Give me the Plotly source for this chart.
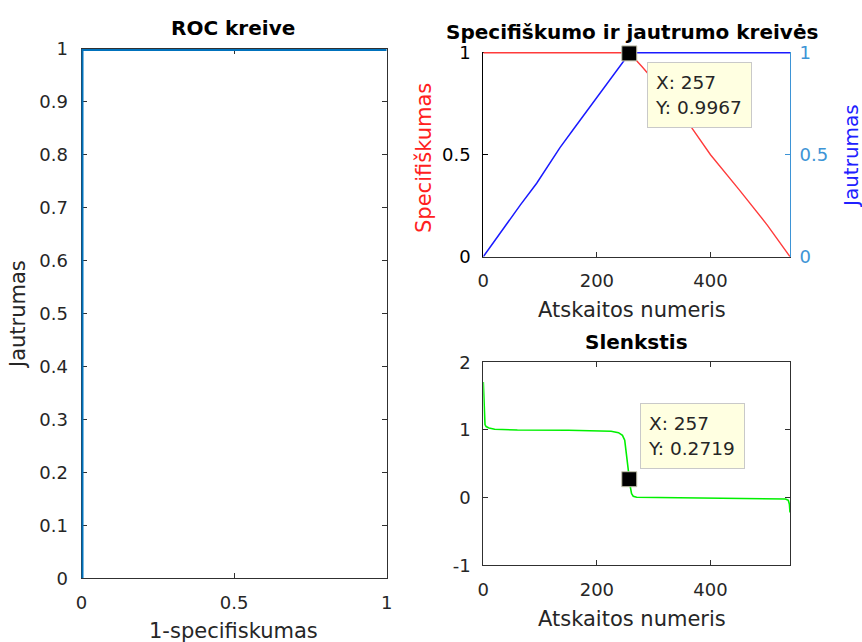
import plotly.graph_objects as go

# ---- data -----------------------------------------------------------------
# ROC curve (1 - specificity vs. sensitivity)
roc_fpr = [0.0, 0.0, 0.0, 0.5, 1.0]
roc_tpr = [0.0, 0.5, 1.0, 1.0, 1.0]

# specificity curve (left axis) vs. sample number
spec_idx = [0, 100, 200, 257, 280, 320, 360, 400, 450, 500, 540]
spec_val = [1.0, 1.0, 1.0, 1.0, 0.93, 0.80, 0.66, 0.50, 0.33, 0.155, 0.0]

# sensitivity curve (right axis) vs. sample number
sens_idx = [0, 35, 65, 94, 117, 135, 160, 188, 220, 246, 257, 258, 400, 540]
sens_val = [0.0, 0.139, 0.253, 0.36, 0.458, 0.535, 0.63, 0.735, 0.86, 0.956, 0.9967, 1.0, 1.0, 1.0]

# decision threshold vs. sample number
thr_idx = [0, 1, 2, 3, 5, 10, 20, 60, 150, 200, 225, 238, 245, 249, 251, 253, 255,
           257, 259, 261, 264, 270, 350, 450, 520, 532, 537, 539, 540]
thr_val = [1.71, 1.45, 1.2, 1.08, 1.05, 1.03, 1.01, 1.0, 0.995, 0.99, 0.98, 0.96, 0.92,
           0.85, 0.7, 0.5, 0.38, 0.2719, 0.15, 0.06, 0.02, 0.005, 0.0, -0.005, -0.012,
           -0.02, -0.04, -0.1, -0.22]

# selected operating point (data tips)
opt_idx = 257
opt_sens = 0.9967
opt_thr = 0.2719

# ---- figure geometry --------------------------------------------------------
W, H = 862, 642
FONT = "DejaVu Sans"
AX = "#303030"
RAX = "#3d94d6"


def fx(px):
    return px / W


def fy(py):
    return 1 - py / H


fig = go.Figure()

fig.add_trace(go.Scatter(x=roc_fpr, y=roc_tpr, mode="lines",
                         line=dict(color="#0072BD", width=4),
                         xaxis="x", yaxis="y", showlegend=False))
fig.add_trace(go.Scatter(x=spec_idx, y=spec_val, mode="lines",
                         line=dict(color="#ff3b3b", width=1.4),
                         xaxis="x2", yaxis="y2", showlegend=False))
fig.add_trace(go.Scatter(x=sens_idx, y=sens_val, mode="lines",
                         line=dict(color="#1a1aff", width=1.5),
                         xaxis="x2", yaxis="y3", showlegend=False))
fig.add_trace(go.Scatter(x=[opt_idx], y=[opt_sens], mode="markers",
                         marker=dict(symbol="square", size=15, color="black",
                                     line=dict(color="#c8c8b0", width=1)),
                         cliponaxis=False,
                         xaxis="x2", yaxis="y3", showlegend=False))
fig.add_trace(go.Scatter(x=thr_idx, y=thr_val, mode="lines",
                         line=dict(color="#00f000", width=1.6),
                         xaxis="x3", yaxis="y4", showlegend=False))
fig.add_trace(go.Scatter(x=[opt_idx], y=[opt_thr], mode="markers",
                         marker=dict(symbol="square", size=15, color="black",
                                     line=dict(color="#c8c8b0", width=1)),
                         cliponaxis=False,
                         xaxis="x3", yaxis="y4", showlegend=False))


def axis(dom, rng, vals, texts, color=AX, **kw):
    d = dict(domain=dom, range=rng, tickvals=vals, ticktext=texts,
             automargin=False,
             showline=True, linecolor=color, linewidth=1,
             ticks="inside", ticklen=5, tickcolor=color, tickwidth=1,
             showgrid=False, zeroline=False, fixedrange=True,
             tickfont=dict(family=FONT, size=18, color=color if color != AX else "#262626"))
    d.update(kw)
    return d


left_x = [fx(81.5), fx(386.7)]
left_y = [fy(578.3), fy(49)]
rt_x = [fx(483.3), fx(790)]
top_y = [fy(256.7), fy(51.5)]
bot_y = [fy(565.3), fy(362.3)]

fig.update_layout(
    template="none",
    width=W, height=H, autosize=False,
    margin=dict(l=0, r=0, t=0, b=0, pad=0),
    paper_bgcolor="white", plot_bgcolor="white",
    showlegend=False,
    xaxis=axis(left_x, [0, 1], [0, 0.5, 1], ["0", "0.5", "1"], anchor="y",
               mirror="ticks", layer="below traces", ticklabelstandoff=8),
    yaxis=axis(left_y, [0, 1], [i / 10 for i in range(11)],
               ["0", "0.1", "0.2", "0.3", "0.4", "0.5", "0.6", "0.7", "0.8", "0.9", "1"],
               anchor="x", mirror="ticks", layer="below traces", ticklabelstandoff=9),
    xaxis2=axis(rt_x, [0, 540], [0, 200, 400], ["0", "200", "400"], anchor="y2",
                mirror=False, layer="below traces", ticklabelstandoff=8),
    yaxis2=axis(top_y, [0, 1.006], [0, 0.5, 1], ["0", "0.5", "1"], color="#000000",
                anchor="x2", layer="below traces", ticklabelstandoff=8),
    yaxis3=axis(top_y, [0, 1.006], [0, 0.5, 1], ["0", "0.5", "1"], color=RAX,
                anchor="x2", overlaying="y2", side="right", layer="below traces",
                ticklabelstandoff=5),
    xaxis3=axis(rt_x, [0, 540], [0, 200, 400], ["0", "200", "400"], anchor="y4",
                mirror="ticks", ticklabelstandoff=8),
    yaxis4=axis(bot_y, [-1, 2], [-1, 0, 1, 2], ["-1", "0", "1", "2"], anchor="x3",
                mirror="ticks", ticklabelstandoff=8),
)

ann = []


def label(text, x, y, size=21, color="#262626", bold=False, angle=0):
    ann.append(dict(text=f"<b>{text}</b>" if bold else text,
                    x=fx(x), y=fy(y), xref="paper", yref="paper",
                    xanchor="center", yanchor="middle", showarrow=False,
                    textangle=angle,
                    font=dict(family=FONT, size=size, color=color)))


# titles
label("ROC kreive", 233, 28, size=20, color="#000000", bold=True)
label("Specifiškumo ir jautrumo kreivės", 632, 32, size=20, color="#000000", bold=True)
label("Slenkstis", 636, 342, size=20, color="#000000", bold=True)

# axis titles
label("1-specifiskumas", 233, 631)
label("Jautrumas", 18, 315, angle=-90)
label("Atskaitos numeris", 632, 310)
label("Atskaitos numeris", 632, 619)
label("Specifiškumas", 424, 158, color="#ff2020", angle=-90)
label("Jautrumas", 851, 156, size=20, color="#2020ff", angle=-90)


def datatip(x_left, y_top, xv, yv):
    ann.append(dict(text=f"X: {xv}<br>Y: {yv}",
                    x=fx(x_left), y=fy(y_top), xref="paper", yref="paper",
                    xanchor="left", yanchor="top", align="left", valign="middle",
                    showarrow=False, width=89, height=50, borderpad=7,
                    bgcolor="#ffffe1", bordercolor="#c9c9c9", borderwidth=1,
                    font=dict(family=FONT, size=18.5, color="#262626")))


datatip(646.7, 61.7, opt_idx, f"{opt_sens:.4f}")
datatip(640, 402.7, opt_idx, f"{opt_thr:.4f}")

fig.update_layout(annotations=ann)

fig.write_html("out.html", config=dict(displayModeBar=False))
